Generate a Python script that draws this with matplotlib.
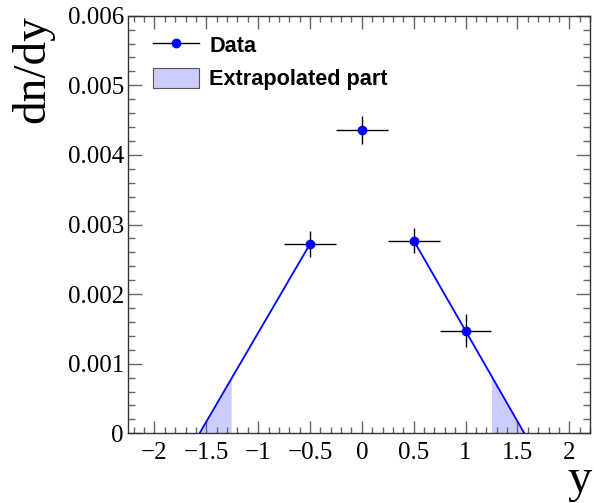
import numpy as np
import matplotlib.pyplot as plt
from matplotlib.lines import Line2D
from matplotlib.patches import Patch
from matplotlib.ticker import MultipleLocator

# measured points (centre bins)
y_pts = [-0.5, 0.0, 0.5, 1.0]
dndy = [0.00272, 0.00436, 0.00277, 0.00147]
y_err = [0.25, 0.25, 0.25, 0.25]
dndy_err = [0.00018, 0.000205, 0.000175, 0.000237]

# straight-line extrapolations down to zero
left_x = [-1.565, -0.5]
left_y = [0.0, 0.00272]
right_x = [0.5, 1.567]
right_y = [0.00277, 0.0]

# edges of the extrapolated (shaded) part
shade_left = [-1.565, -1.26]
shade_right = [1.25, 1.567]

serif = "Liberation Serif"
plt.rcParams["font.family"] = serif

fig = plt.figure(figsize=(5.94, 5.03), dpi=100)
ax = fig.add_axes([128 / 594, 1 - 433.3 / 503, (590 - 128) / 594, (433.3 - 15.7) / 503])

fill_col = "#ccccff"
xs = np.linspace(shade_left[0], shade_left[1], 50)
ax.fill_between(xs, 0, np.interp(xs, left_x, left_y), color=fill_col, lw=0)
xs = np.linspace(shade_right[0], shade_right[1], 50)
ax.fill_between(xs, 0, np.interp(xs, right_x, right_y), color=fill_col, lw=0)

ax.plot(left_x, left_y, color="blue", lw=1.3)
ax.plot(right_x, right_y, color="blue", lw=1.3)

ax.errorbar(y_pts, dndy, xerr=y_err, yerr=dndy_err, fmt="o", color="blue",
            ms=6, ecolor="black", elinewidth=1.0, capsize=0, zorder=5)

ax.set_xlim(-2.255, 2.2)
ax.set_ylim(0, 0.006)

ax.xaxis.set_major_locator(MultipleLocator(0.5))
ax.xaxis.set_minor_locator(MultipleLocator(0.1))
ax.yaxis.set_major_locator(MultipleLocator(0.001))
ax.yaxis.set_minor_locator(MultipleLocator(0.0002))
ax.xaxis.set_major_formatter(plt.FuncFormatter(lambda v, p: f"{v:g}".replace("-", "\u2212")))
ax.yaxis.set_major_formatter(plt.FuncFormatter(lambda v, p: "0" if abs(v) < 1e-12 else f"{v:.3f}"))

ax.tick_params(which="both", direction="in", top=True, right=True, color="#666666",
               labelsize=18, width=1.0)
ax.tick_params(axis="x", which="major", length=9, pad=6)
ax.tick_params(axis="x", which="minor", length=4.5)
ax.tick_params(axis="y", which="major", length=10, pad=3)
ax.tick_params(axis="y", which="minor", length=5)
for s in ax.spines.values():
    s.set_color("#333333")
    s.set_linewidth(1.0)

fig.text(33 / 594, 1 - 15 / 503, "dn/dy", rotation=90, ha="center", va="top", fontsize=34)
fig.text(592 / 594, 1 - 502 / 503, "y", ha="right", va="bottom", fontsize=35)

handles = [Line2D([], [], color="black", lw=1.0, marker="o", markersize=6,
                  markerfacecolor="blue", markeredgecolor="blue"),
           Patch(facecolor=fill_col, edgecolor="#555555", lw=0.8)]
leg = ax.legend(handles, ["Data", "Extrapolated part"], loc="upper left",
                bbox_to_anchor=(0.012, 1.003), frameon=False, handlelength=2.1,
                handleheight=1.1, handletextpad=0.5, labelspacing=0.5,
                prop={"family": "Liberation Sans", "weight": "bold", "size": 15.6})

fig.savefig("out.png", dpi=100)
